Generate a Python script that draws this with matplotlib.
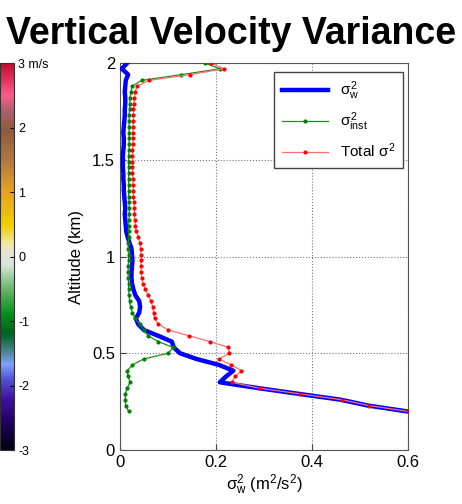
import numpy as np
import matplotlib
matplotlib.use('Agg')
import matplotlib.pyplot as plt
from matplotlib.colors import LinearSegmentedColormap
from matplotlib.colorbar import ColorbarBase
from matplotlib.colors import Normalize

plt.rcParams['font.family'] = ['Liberation Sans', 'DejaVu Sans']
plt.rcParams['mathtext.fontset'] = 'custom'
plt.rcParams['mathtext.rm'] = 'Liberation Sans'
plt.rcParams['mathtext.it'] = 'Liberation Sans'
plt.rcParams['mathtext.bf'] = 'Liberation Sans:bold'

# altitude levels (km), bottom to top
altitude = [0.20, 0.23, 0.26, 0.29, 0.32, 0.35, 0.38, 0.41, 0.44, 0.47,
            0.50, 0.53, 0.56, 0.59, 0.62, 0.65, 0.68, 0.71, 0.74, 0.77,
            0.80, 0.83, 0.86, 0.89, 0.92, 0.95, 0.98, 1.01, 1.04, 1.07,
            1.10, 1.13, 1.16, 1.19, 1.22, 1.25, 1.28, 1.31, 1.34, 1.37,
            1.40, 1.43, 1.46, 1.49, 1.52, 1.55, 1.58, 1.61, 1.64, 1.67,
            1.70, 1.73, 1.76, 1.79, 1.82, 1.85, 1.88, 1.91, 1.94, 1.97,
            2.00]

# sigma_w^2 (blue)
sigma_w = [0.597, 0.516, 0.460, 0.373, 0.288, 0.208, 0.221, 0.236, 0.206, 0.160,
           0.125, 0.112, 0.108, 0.080, 0.050, 0.038, 0.033, 0.040, 0.042, 0.040,
           0.032, 0.028, 0.025, 0.024, 0.024, 0.025, 0.026, 0.025, 0.024, 0.020,
           0.016, 0.013, 0.012, 0.011, 0.010, 0.011, 0.010, 0.009, 0.008, 0.008,
           0.007, 0.007, 0.006, 0.006, 0.006, 0.007, 0.008, 0.008, 0.007, 0.008,
           0.009, 0.010, 0.010, 0.011, 0.011, 0.010, 0.011, 0.012, 0.017, 0.004,
           0.015]

# sigma_inst^2 (green)
sigma_inst = [0.018, 0.012, 0.011, 0.011, 0.015, 0.021, 0.017, 0.015, 0.026, 0.049,
              0.100, 0.111, 0.080, 0.059, 0.049, 0.042, 0.031, 0.026, 0.022, 0.020,
              0.019, 0.018, 0.018, 0.017, 0.017, 0.017, 0.018, 0.018, 0.017, 0.017,
              0.018, 0.018, 0.018, 0.019, 0.019, 0.019, 0.019, 0.018, 0.018, 0.018,
              0.018, 0.018, 0.018, 0.018, 0.018, 0.019, 0.019, 0.019, 0.019, 0.019,
              0.019, 0.019, 0.020, 0.020, 0.021, 0.023, 0.025, 0.045, 0.128, 0.208,
              0.177]

# total sigma^2 (red)
sigma_total = [0.599, 0.518, 0.462, 0.375, 0.290, 0.233, 0.240, 0.253, 0.232, 0.206,
               0.228, 0.226, 0.188, 0.144, 0.101, 0.080, 0.072, 0.070, 0.068, 0.065,
               0.058, 0.053, 0.048, 0.045, 0.044, 0.044, 0.044, 0.044, 0.043, 0.041,
               0.038, 0.034, 0.032, 0.031, 0.030, 0.030, 0.029, 0.028, 0.028, 0.027,
               0.027, 0.026, 0.026, 0.026, 0.026, 0.026, 0.027, 0.027, 0.027, 0.027,
               0.028, 0.028, 0.028, 0.029, 0.030, 0.032, 0.035, 0.060, 0.146, 0.216,
               0.190]

cbar_ticks = [-3, -2, -1, 0, 1, 2, 3]
cbar_labels = ['-3', '-2', '-1', '0', '1', '2', '3 m/s']

fig = plt.figure(figsize=(4.62, 5.04), dpi=100)
ax = fig.add_axes([0.2597, 0.1071, 0.6234, 0.7679])

# same order as the legend: blue, green, red (later ones drawn on top)
ax.plot(sigma_w, altitude, '-', color='blue', lw=3.2, label='$\\sigma^2_w$',
        zorder=3)
ax.plot(sigma_inst, altitude, '-', color='#228b22', lw=0.9, marker='o',
        ms=2, mfc='#008000', mec='#008000', label='$\\sigma^2_{inst}$', zorder=4)
ax.plot(sigma_total, altitude, '-', color='#ff7070', lw=0.9, marker='o',
        ms=2, mfc='red', mec='red', label='Total $\\sigma^2$', zorder=5)

ax.set_xlim(0, 0.6)
ax.set_ylim(0, 2)
ax.set_xticks([0, 0.2, 0.4, 0.6])
ax.set_xticklabels(['0', '0.2', '0.4', '0.6'])
ax.set_yticks([0, 0.5, 1, 1.5, 2])
ax.set_yticklabels(['0', '0.5', '1', '1.5', '2'])
ax.tick_params(direction='in', labelsize=12, length=4, color='#444444')
ax.grid(True, linestyle=':', color='#777777', lw=0.8)
for s in ax.spines.values():
    s.set_color('#555555')
ax.set_xlabel('$\\sigma^2_w$ (m$^2$/s$^2$)', fontsize=12, labelpad=2)
ax.set_ylabel('Altitude (km)', fontsize=12, labelpad=6)

leg = ax.legend(loc='upper right', bbox_to_anchor=(0.983, 0.977),
                borderaxespad=0, fontsize=11, handlelength=3.0,
                fancybox=False, framealpha=1, edgecolor='#444444',
                labelspacing=0.55, borderpad=0.5)

fig.text(0.5, 0.913, 'Vertical Velocity Variance', ha='center',
         va='baseline', fontsize=27, fontweight='bold')

# colorbar on the left edge
cmap_colors = [
    (0.00, '#000010'), (0.07, '#200060'), (0.13, '#4010a0'),
    (0.18, '#5050d0'), (0.22, '#80a0ff'), (0.26, '#408080'),
    (0.30, '#006020'), (0.35, '#00901a'), (0.42, '#70b870'),
    (0.48, '#d8e8d8'), (0.50, '#e0e0e0'), (0.53, '#f0e8b0'),
    (0.58, '#f0d000'), (0.67, '#e8a020'), (0.75, '#b07840'),
    (0.83, '#8b5a3c'), (0.88, '#b06070'), (0.92, '#ff5a8a'),
    (0.96, '#e0305a'), (1.00, '#c0102e')]
cmap = LinearSegmentedColormap.from_list('wind', cmap_colors)
cax = fig.add_axes([0.0, 0.1071, 0.0303, 0.7679])
cb = ColorbarBase(cax, cmap=cmap, norm=Normalize(-3, 3), ticks=cbar_ticks)
cb.set_ticklabels(cbar_labels)
cb.ax.tick_params(labelsize=9, length=3, direction='in', pad=3)
cb.outline.set_edgecolor('#333333')

fig.savefig('out.png', dpi=100)
